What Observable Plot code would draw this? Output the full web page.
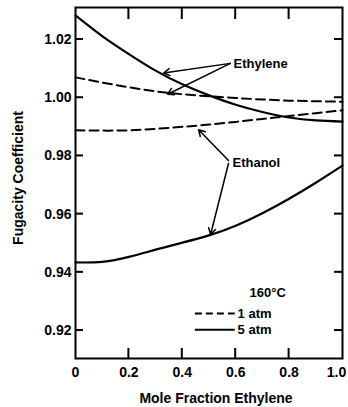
<!DOCTYPE html>
<html><head><meta charset="utf-8">
<script src="https://cdn.jsdelivr.net/npm/d3@7"></script>
<script src="https://cdn.jsdelivr.net/npm/@observablehq/plot@0.6"></script>
<style>
body{margin:0;background:#fff;}
#chart svg{font-family:"Liberation Sans",Arial,sans-serif;font-weight:bold;}
</style></head><body><div id="chart"></div>
<script>
// Mole fraction ethylene
const moleFraction = [0, 0.1, 0.2, 0.3, 0.4, 0.5, 0.6, 0.7, 0.8, 0.9, 1.0];
// Fugacity coefficients (160°C)
const ethylene1atm = [1.0070, 1.0052, 1.0036, 1.0022, 1.0012, 1.0005, 0.9999, 0.9994, 0.9990, 0.9988, 0.9986];
const ethylene5atm = [1.0283, 1.0212, 1.0150, 1.0093, 1.0046, 1.0008, 0.9976, 0.9951, 0.9932, 0.9922, 0.9918];
const ethanol1atm  = [0.9888, 0.9887, 0.9888, 0.9893, 0.9900, 0.9908, 0.9917, 0.9927, 0.9937, 0.9947, 0.9957];
const ethanol5atm  = [0.9434, 0.9436, 0.9453, 0.9478, 0.9502, 0.9527, 0.9560, 0.9603, 0.9653, 0.9708, 0.9767];

const xTicks = [0, 0.2, 0.4, 0.6, 0.8, 1.0];
const xTickLabels = ["0", "0.2", "0.4", "0.6", "0.8", "1.0"];
const yTicks = [0.92, 0.94, 0.96, 0.98, 1.00, 1.02];
const yTickLabels = ["0.92", "0.94", "0.96", "0.98", "1.00", "1.02"];

const seriesDefs = [
  {name: "Ethylene 1 atm", values: ethylene1atm, dashed: true},
  {name: "Ethylene 5 atm", values: ethylene5atm, dashed: false},
  {name: "Ethanol 1 atm", values: ethanol1atm, dashed: true},
  {name: "Ethanol 5 atm", values: ethanol5atm, dashed: false}
];
const rows = seriesDefs.flatMap(s => moleFraction.map((x, i) => ({x, y: s.values[i], series: s.name, dashed: s.dashed})));
const xTickRows = xTicks.map((t, i) => ({t, label: xTickLabels[i]}));
const yTickRows = yTicks.map((t, i) => ({t, label: yTickLabels[i]}));

// annotations (data coordinates)
const annoStart = [
  {x: 0.592, y: 1.0118, text: "Ethylene"},
  {x: 0.588, y: 0.9777, text: "Ethanol"},
  {x: 0.607, y: 0.9259, text: "1 atm"},
  {x: 0.607, y: 0.9203, text: "5 atm"}
];
const annoMiddle = [
  {x: 0.72, y: 0.9331, text: "160°C"}
];
const arrows = [
  {x1: 0.58, y1: 1.0118, x2: 0.33, y2: 1.0085},
  {x1: 0.58, y1: 1.0118, x2: 0.345, y2: 1.0012},
  {x1: 0.573, y1: 0.9784, x2: 0.461, y2: 0.9890},
  {x1: 0.573, y1: 0.9774, x2: 0.506, y2: 0.9530}
];
const legendLines = [
  {x1: 0.449, x2: 0.598, y: 0.9259, dashed: true},
  {x1: 0.449, x2: 0.598, y: 0.9203, dashed: false}
];

const W = 348, H = 407, mL = 75, mR = 6, mT = 7, mB = 49;
const xDomain = [0, 1], yDomain = [0.9104, 1.031];
const font = "'Liberation Sans', Arial, sans-serif";

const plot = Plot.plot({
  width: W, height: H,
  marginLeft: mL, marginRight: mR, marginTop: mT, marginBottom: mB,
  x: {domain: xDomain, axis: null},
  y: {domain: yDomain, axis: null},
  style: {fontSize: "14px", fontFamily: font, fontWeight: "bold", background: "#fff", color: "#000"},
  marks: [
    Plot.frame({stroke: "#000", strokeWidth: 2}),
    // tick labels
    Plot.text(xTickRows.slice(0, -1), {x: "t", text: "label", frameAnchor: "bottom", lineAnchor: "middle", dy: 14, fontSize: 14, fontWeight: "bold", fill: "#000"}),
    Plot.text(xTickRows.slice(-1), {x: "t", text: "label", frameAnchor: "bottom", lineAnchor: "middle", dy: 14, dx: -6, fontSize: 14, fontWeight: "bold", fill: "#000"}),
    Plot.text(yTickRows, {y: "t", text: "label", frameAnchor: "left", textAnchor: "end", dx: -4, fontSize: 14, fontWeight: "bold", fill: "#000"}),
    // curves
    Plot.line(rows.filter(d => d.dashed), {x: "x", y: "y", z: "series", curve: "natural", stroke: "#000", strokeWidth: 2, strokeDasharray: "9,5"}),
    Plot.line(rows.filter(d => !d.dashed), {x: "x", y: "y", z: "series", curve: "natural", stroke: "#000", strokeWidth: 2.2}),
    // annotations
    Plot.arrow(arrows, {x1: "x1", y1: "y1", x2: "x2", y2: "y2", stroke: "#000", strokeWidth: 1.5, headLength: 7, bend: 0}),
    Plot.ruleY(legendLines.filter(d => d.dashed), {y: "y", x1: "x1", x2: "x2", stroke: "#000", strokeWidth: 2, strokeDasharray: "7,4"}),
    Plot.ruleY(legendLines.filter(d => !d.dashed), {y: "y", x1: "x1", x2: "x2", stroke: "#000", strokeWidth: 2}),
    Plot.text(annoStart, {x: "x", y: "y", text: "text", textAnchor: "start", fontSize: 13, fontWeight: "bold", fill: "#000"}),
    Plot.text(annoMiddle, {x: "x", y: "y", text: "text", textAnchor: "middle", fontSize: 13, fontWeight: "bold", fill: "#000"}),
    // axis titles
    Plot.text(["Mole Fraction Ethylene"], {frameAnchor: "bottom", textAnchor: "middle", lineAnchor: "bottom", dy: 44, dx: 7, fontSize: 14, fontWeight: "bold", fill: "#000"}),
    Plot.text(["Fugacity Coefficient"], {frameAnchor: "left", textAnchor: "middle", lineAnchor: "middle", dx: -57, dy: -5, rotate: -90, fontSize: 14, fontWeight: "bold", fill: "#000"})
  ]
});

// inward tick marks, positioned with the plot's own x/y scales
const sx = plot.scale("x"), sy = plot.scale("y");
const ticksG = d3.select(plot).append("g").attr("stroke", "#000").attr("stroke-width", 2).attr("fill", "none");
xTicks.slice(1, -1).forEach(t => {
  const px = sx.apply(t);
  ticksG.append("line").attr("x1", px).attr("x2", px).attr("y1", H - mB).attr("y2", H - mB - 10);
  ticksG.append("line").attr("x1", px).attr("x2", px).attr("y1", mT).attr("y2", mT + 12);
});
yTicks.forEach(t => {
  const py = sy.apply(t);
  ticksG.append("line").attr("x1", mL).attr("x2", mL + 8).attr("y1", py).attr("y2", py);
  ticksG.append("line").attr("x1", W - mR).attr("x2", W - mR - 8).attr("y1", py).attr("y2", py);
});

document.getElementById("chart").appendChild(plot);
</script>
</body></html>
